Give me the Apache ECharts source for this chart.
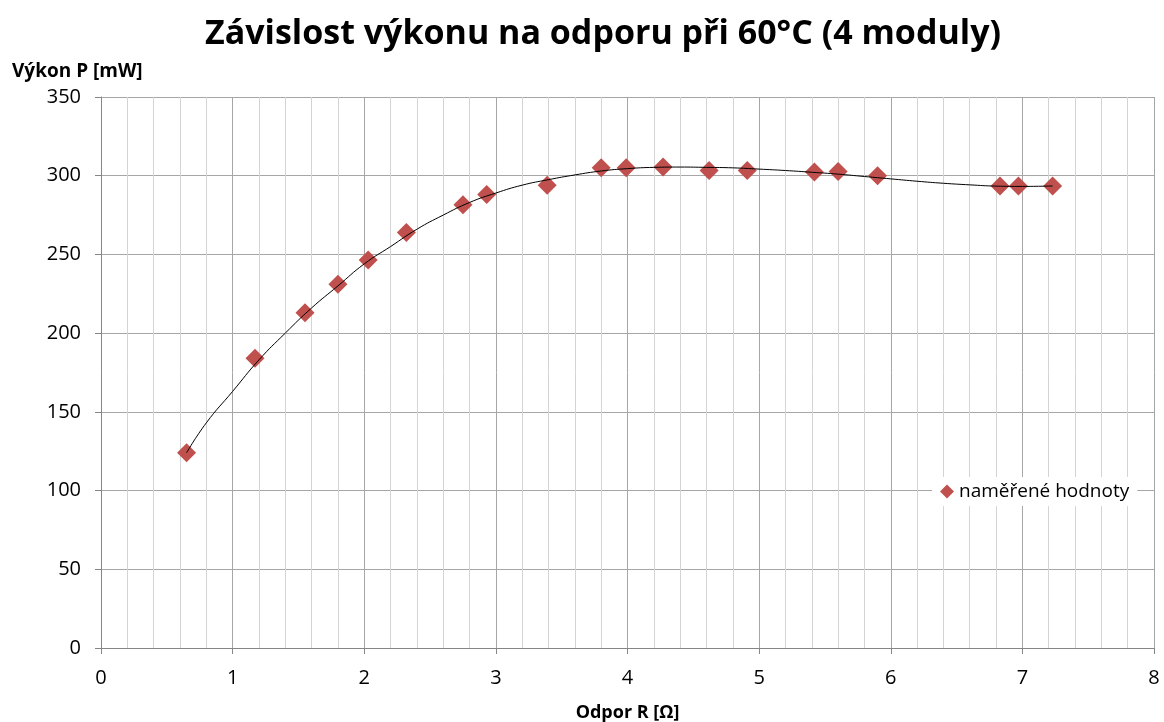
<!DOCTYPE html>
<html>
<head>
<meta charset="utf-8">
<script src="https://cdn.jsdelivr.net/npm/echarts@6/dist/echarts.min.js"></script>
<style>
  html, body { margin: 0; padding: 0; background: #fff; }
  #chart { width: 1164px; height: 722px; }
</style>
</head>
<body>
<div id="chart"></div>
<script>
// naměřené hodnoty: odpor R [Ω] a výkon P [mW]
const odpor = [0.65, 1.17, 1.55, 1.80, 2.03, 2.32, 2.75, 2.93, 3.39, 3.80, 3.99, 4.27, 4.62, 4.91, 5.42, 5.60, 5.90, 6.83, 6.97, 7.23];
const vykon = [124, 184, 213, 231, 246.5, 264, 281.5, 288, 294, 305, 305, 305.5, 303.3, 303.3, 302.3, 302.6, 300, 293.5, 293.5, 293.5];

// trendová křivka
const trendR = [0.65, 0.8, 1.0, 1.2, 1.4, 1.6, 1.8, 2.0, 2.2, 2.4, 2.6, 2.8, 3.0, 3.2, 3.4, 3.6, 3.8, 4.0, 4.2, 4.4, 4.6, 4.8, 5.0, 5.2, 5.4, 5.6, 5.8, 6.0, 6.2, 6.4, 6.6, 6.8, 7.0, 7.23];
const trendP = [124, 143, 163, 183, 200, 216, 230, 244, 255, 266, 275, 283, 289, 294, 297.5, 300.5, 303, 304.5, 305.3, 305.5, 305.3, 305, 304.2, 303.3, 302.2, 301, 299.5, 298, 296.5, 295.2, 294.2, 293.4, 293.2, 293.5];

const chart = echarts.init(document.getElementById('chart'));

const font = '"Open Sans", "Noto Sans", sans-serif';

const option = {
    backgroundColor: '#fff',
    animation: false,
    title: {
        text: 'Závislost výkonu na odporu při 60°C (4 moduly)',
        left: 200,
        top: 12,
        textStyle: { fontFamily: font, fontSize: 34, fontWeight: 'bold', color: '#000' }
    },
    legend: {
        data: [{ name: 'naměřené hodnoty', icon: 'diamond' }],
        left: 932,
        top: 477,
        itemWidth: 14,
        itemHeight: 14,
        itemGap: 4,
        padding: [5, 8, 5, 8],
        backgroundColor: '#fff',
        textStyle: { fontFamily: font, fontSize: 19, color: '#000' }
    },
    grid: { left: 101, right: 10, top: 97, bottom: 74, outerBoundsMode: 'none' },
    xAxis: {
        type: 'value',
        min: 0,
        max: 8,
        interval: 1,
        name: 'Odpor R [Ω]',
        nameLocation: 'middle',
        nameGap: 56,
        nameTextStyle: { fontFamily: font, fontSize: 18, fontWeight: 'bold', color: '#000' },
        axisLine: { show: true, lineStyle: { color: '#868686', width: 1 } },
        axisTick: { show: true, length: 6, lineStyle: { color: '#868686' } },
        axisLabel: { fontFamily: font, fontSize: 20, color: '#000', margin: 20 },
        splitLine: { show: true, lineStyle: { color: '#a6a6a6', width: 1 } },
        minorTick: { show: false, splitNumber: 5 },
        minorSplitLine: { show: true, lineStyle: { color: '#d4d4d4', width: 1 } }
    },
    yAxis: {
        type: 'value',
        min: 0,
        max: 350,
        interval: 50,
        name: 'Výkon P [mW]',
        nameLocation: 'end',
        nameGap: 16,
        nameTextStyle: { fontFamily: font, fontSize: 19, fontWeight: 'bold', color: '#000', align: 'left', padding: [0, 0, 0, -89] },
        axisLine: { show: true, lineStyle: { color: '#868686', width: 1 } },
        axisTick: { show: true, length: 6, lineStyle: { color: '#868686' } },
        axisLabel: { fontFamily: font, fontSize: 20, color: '#000', margin: 20 },
        splitLine: { show: true, lineStyle: { color: '#a6a6a6', width: 1 } }
    },
    series: [
        {
            name: 'trend',
            type: 'line',
            data: trendR.map((r, i) => [r, trendP[i]]),
            smooth: true,
            showSymbol: false,
            lineStyle: { color: '#000', width: 1 },
            z: 3
        },
        {
            name: 'naměřené hodnoty',
            type: 'scatter',
            data: odpor.map((r, i) => [r, vykon[i]]),
            symbol: 'diamond',
            symbolSize: 19,
            itemStyle: { color: '#c0504d', opacity: 1 },
            z: 2
        }
    ]
};

chart.setOption(option);
</script>
</body>
</html>
